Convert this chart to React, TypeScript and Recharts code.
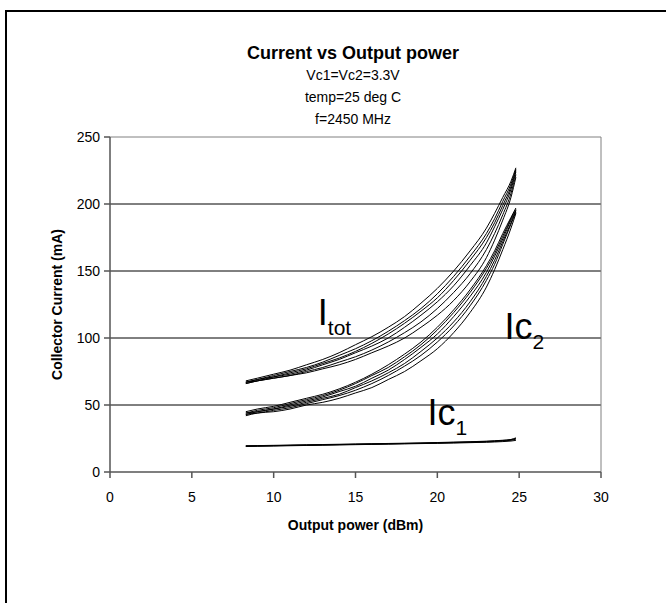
import React from "react";
import { LineChart, Line, XAxis, YAxis, ReferenceLine, ReferenceDot } from "recharts";

const titleText = "Current vs Output power";
const subtitleLines = ["Vc1=Vc2=3.3V", "temp=25 deg C", "f=2450 MHz"];
const xTitle = "Output power (dBm)";
const yTitle = "Collector Current (mA)";

const xTicks = [0, 5, 10, 15, 20, 25, 30];
const yTicks = [0, 50, 100, 150, 200, 250];
const gridValues = [50, 100, 150, 200];

// Output power (dBm) sample points shared by all curves
const pout = [8.3, 9, 10, 11, 12, 13, 14, 15, 16, 17, 18, 19, 20, 21, 22, 23, 23.5, 24, 24.5, 24.8];

// I_tot curves (mA)
const itotA = [68, 70, 73, 76, 80, 84, 89, 95, 101, 108, 116, 126, 137, 150, 165, 182, 193, 205, 217, 227];
const itotB = [67, 69, 72, 75, 78, 82, 87, 92, 98, 105, 113, 122, 133, 146, 161, 178, 189, 202, 215, 226];
const itotC = [66, 68, 71, 74, 77, 81, 85, 90, 96, 103, 111, 120, 130, 143, 158, 175, 186, 199, 213, 225];
const itotD = [67, 69, 71, 73, 76, 80, 84, 89, 94, 100, 108, 117, 127, 139, 154, 171, 183, 196, 211, 224];
const itotE = [66, 68, 70, 72, 75, 78, 82, 86, 91, 97, 104, 112, 122, 134, 148, 166, 178, 192, 208, 222];
const itotF = [67, 68, 70, 72, 74, 77, 80, 84, 89, 94, 100, 108, 117, 128, 142, 160, 173, 188, 205, 220];

// Ic2 curves (mA)
const ic2A = [45, 47, 49, 52, 55, 58, 62, 67, 73, 80, 88, 97, 108, 121, 136, 154, 165, 178, 190, 197];
const ic2B = [44, 46, 48, 51, 54, 57, 61, 66, 72, 78, 86, 95, 106, 119, 134, 152, 163, 176, 189, 196];
const ic2C = [44, 45, 47, 50, 53, 56, 60, 64, 70, 76, 84, 93, 103, 116, 131, 149, 161, 174, 188, 195];
const ic2D = [43, 45, 47, 49, 52, 55, 58, 63, 68, 74, 81, 90, 100, 112, 127, 146, 158, 172, 186, 195];
const ic2E = [43, 44, 46, 48, 51, 54, 57, 61, 66, 72, 79, 87, 97, 109, 124, 143, 155, 170, 185, 194];
const ic2F = [42, 44, 45, 47, 50, 52, 55, 59, 63, 69, 75, 83, 92, 104, 119, 138, 151, 166, 182, 193];

// Ic1 curves (mA)
const ic1A = [19.6, 19.7, 19.9, 20.1, 20.3, 20.5, 20.7, 20.9, 21.1, 21.3, 21.5, 21.7, 22.0, 22.3, 22.6, 23.0, 23.3, 23.7, 24.3, 25.5];
const ic1B = [19.3, 19.4, 19.6, 19.8, 20.0, 20.2, 20.4, 20.6, 20.8, 21.0, 21.2, 21.4, 21.6, 21.9, 22.2, 22.5, 22.8, 23.2, 23.7, 24.5];
const ic1C = [19.0, 19.2, 19.4, 19.6, 19.8, 20.0, 20.2, 20.4, 20.6, 20.8, 21.0, 21.2, 21.4, 21.6, 21.9, 22.2, 22.4, 22.7, 23.1, 23.6];
const ic1D = [19.4, 19.5, 19.7, 19.9, 20.1, 20.3, 20.5, 20.7, 20.9, 21.1, 21.3, 21.5, 21.8, 22.1, 22.4, 22.8, 23.1, 23.5, 24.1, 25.0];

const seriesKeys: [string, number[]][] = [
  ["itotA", itotA], ["itotB", itotB], ["itotC", itotC], ["itotD", itotD], ["itotE", itotE], ["itotF", itotF],
  ["ic2A", ic2A], ["ic2B", ic2B], ["ic2C", ic2C], ["ic2D", ic2D], ["ic2E", ic2E], ["ic2F", ic2F],
  ["ic1A", ic1A], ["ic1B", ic1B], ["ic1C", ic1C], ["ic1D", ic1D],
];

const data = pout.map((x, i) => {
  const row: Record<string, number> = { x };
  seriesKeys.forEach(([k, arr]) => { row[k] = arr[i]; });
  return row;
});

// Curve labels: [main, subscript, x, y]
const curveLabels: [string, string, number, number][] = [
  ["I", "tot", 12.7, 110],
  ["Ic", "2", 24.1, 99],
  ["Ic", "1", 19.4, 35],
];

const FONT = "'Liberation Sans', Arial, sans-serif";

const makeLabel = (main: string, sub: string) => (props: any) => {
  const vb = props.viewBox || {};
  const x = vb.cx !== undefined ? vb.cx : vb.x;
  const y = vb.cy !== undefined ? vb.cy : vb.y;
  return (
    <text x={x} y={y} fontFamily={FONT} fill="#000">
      <tspan fontSize={36}>{main}</tspan>
      <tspan fontSize={21} dy={10}>{sub}</tspan>
    </text>
  );
};

export default function App() {
  return (
    <div style={{ position: "absolute", left: 0, top: 0, width: 666, height: 603, overflow: "hidden", background: "#fff", fontFamily: FONT }}>
      <div style={{ position: "absolute", left: 5, top: 10, width: 800, height: 800, borderLeft: "2px solid #000", borderTop: "2px solid #000" }} />
      <div style={{ position: "absolute", left: 153, width: 400, top: 42, textAlign: "center", fontWeight: "bold", fontSize: 18, lineHeight: "22px" }}>{titleText}</div>
      {subtitleLines.map((s, i) => (
        <div key={s} style={{ position: "absolute", left: 153, width: 400, top: 66 + i * 22, textAlign: "center", fontSize: 14, lineHeight: "18px" }}>{s}</div>
      ))}
      <div style={{ position: "absolute", left: 0, top: 0 }}>
        <LineChart width={666} height={603} data={data} margin={{ top: 137, right: 65, bottom: 71, left: 10 }}>
          <XAxis
            type="number"
            dataKey="x"
            domain={[0, 30]}
            ticks={xTicks}
            interval={0}
            stroke="#555"
            strokeWidth={1.5}
            tickSize={6}
            tickMargin={14}
            height={60}
            tick={{ fill: "#000", fontSize: 14, fontFamily: FONT }}
            label={{ value: xTitle, position: "insideBottom", offset: 2, style: { fontWeight: "bold", fontSize: 14, fill: "#000", fontFamily: FONT } }}
          />
          <YAxis
            type="number"
            domain={[0, 250]}
            ticks={yTicks}
            interval={0}
            stroke="#555"
            strokeWidth={1.5}
            tickSize={6}
            tickMargin={4}
            width={100}
            tick={{ fill: "#000", fontSize: 14, fontFamily: FONT }}
            label={{ value: yTitle, angle: -90, position: "insideLeft", offset: 47, style: { textAnchor: "middle", fontWeight: "bold", fontSize: 14, fill: "#000", fontFamily: FONT } }}
          />
          {gridValues.map((v) => (
            <ReferenceLine key={v} y={v} stroke="#000" strokeWidth={1} />
          ))}
          <ReferenceLine y={250} stroke="#808080" strokeWidth={1} />
          <ReferenceLine x={30} stroke="#808080" strokeWidth={1} />
          {seriesKeys.map(([k]) => (
            <Line key={k} type="monotone" dataKey={k} stroke="#000" strokeWidth={1} dot={false} isAnimationActive={false} />
          ))}
          {curveLabels.map(([m, s, x, y]) => (
            <ReferenceDot key={m + s} x={x} y={y} r={0} fill="none" stroke="none" label={makeLabel(m, s)} />
          ))}
        </LineChart>
      </div>
    </div>
  );
}
